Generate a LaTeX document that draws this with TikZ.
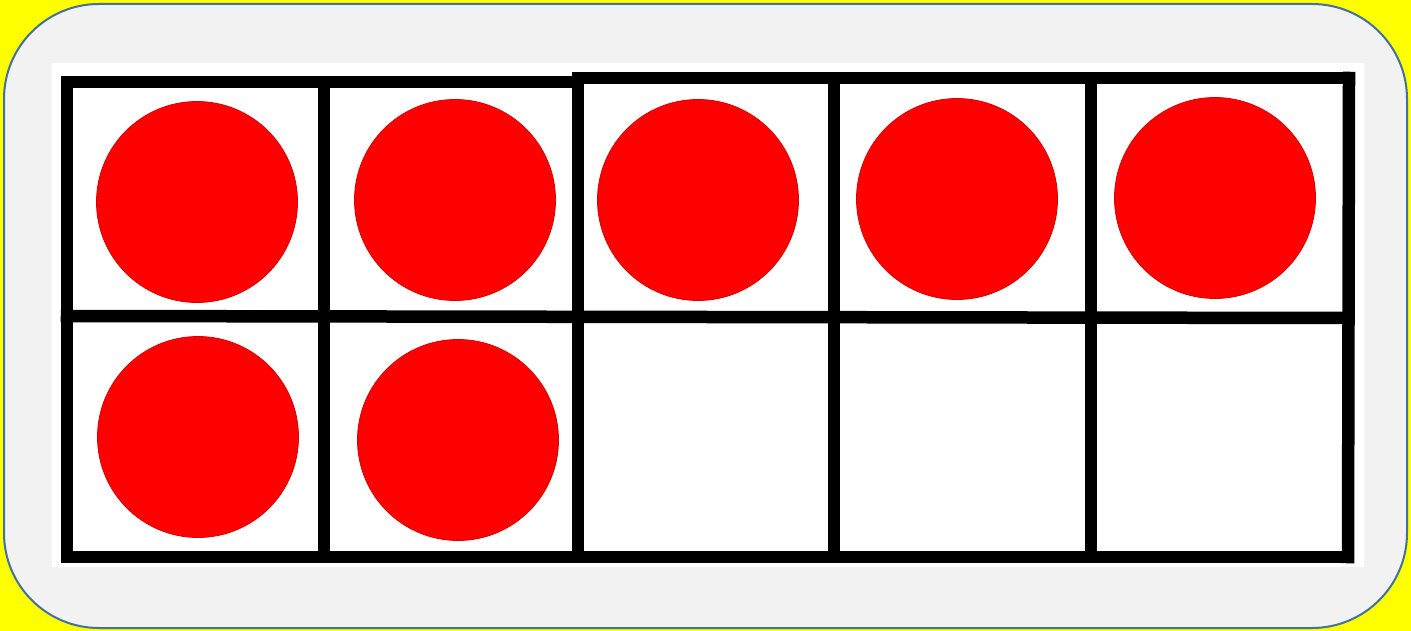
\documentclass[tikz,border=0pt]{standalone}
\usepackage{xcolor}
\definecolor{bgyellow}{HTML}{FFFF00}
\definecolor{panelgray}{HTML}{F2F2F2}
\definecolor{panelblue}{HTML}{41719C}
\definecolor{dotred}{HTML}{FF0000}
\begin{document}
\begin{tikzpicture}[x=1pt,y=-1pt,
  gridline/.style={line width=12.5pt,black,line cap=rect},
  counter/.style={circle,fill=dotred,draw=dotred!85!black,line width=0.8pt,minimum size=201pt,inner sep=0pt}]
\useasboundingbox (0,0) rectangle (1411,631);
\fill[bgyellow] (0,0) rectangle (1411,631);
\draw[panelblue,fill=panelgray,line width=2pt,rounded corners=95pt] (4,4) rectangle (1407,628);
\fill[white] (52,63) rectangle (1364,567);
% counters
\node[counter] (c1) at (197,202) {};
\node[counter] (c2) at (455,200) {};
\node[counter] (c3) at (698,200) {};
\node[counter] (c4) at (957,199) {};
\node[counter] (c5) at (1215,198) {};
\node[counter] (c6) at (198,437) {};
\node[counter] (c7) at (458,440) {};
% grid
\draw[gridline] (67,82) -- (578,82);
\draw[gridline] (578,78) -- (1348,78);
\draw[gridline] (67,316) -- (1348,318);
\draw[gridline] (67,557) -- (1347,557);
\draw[gridline] (67,82) -- (67,557);
\draw[gridline] (324,82) -- (324,557);
\draw[gridline] (578,78) -- (578,557);
\draw[gridline] (834,78) -- (834,557);
\draw[gridline] (1091,78) -- (1091,557);
\draw[gridline] (1349,78) -- (1348,557);
\end{tikzpicture}
\end{document}
